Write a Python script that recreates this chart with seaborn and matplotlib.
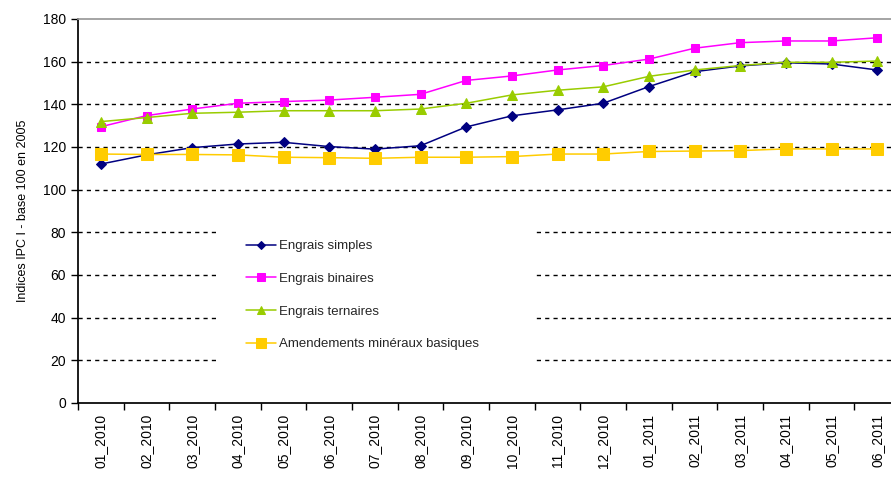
import seaborn as sns
import matplotlib.pyplot as plt
import matplotlib.patches as mpatches
import pandas as pd

# data
months = ['01_2010', '02_2010', '03_2010', '04_2010', '05_2010', '06_2010',
          '07_2010', '08_2010', '09_2010', '10_2010', '11_2010', '12_2010',
          '01_2011', '02_2011', '03_2011', '04_2011', '05_2011', '06_2011']
simples = [112.0, 116.3, 119.7, 121.4, 122.2, 120.2, 119.0, 120.6, 129.4,
           134.6, 137.4, 140.5, 148.3, 155.3, 158.0, 159.5, 158.9, 156.1]
binaires = [129.5, 134.7, 137.8, 140.5, 141.3, 142.0, 143.3, 144.7, 151.2,
            153.3, 156.1, 158.2, 161.2, 166.3, 168.9, 169.7, 169.7, 171.2]
ternaires = [131.9, 133.8, 135.8, 136.3, 137.0, 137.0, 137.0, 137.8, 140.5,
             144.4, 146.6, 148.2, 153.1, 156.1, 158.2, 159.7, 159.7, 160.3]
amendements = [116.7, 116.5, 116.5, 116.3, 115.2, 115.0, 114.7, 115.2, 115.2,
               115.5, 116.7, 116.7, 117.9, 118.1, 118.3, 119.1, 119.1, 119.1]

series = [
    ('Engrais simples', simples, '#000080', 'D', 5),
    ('Engrais binaires', binaires, '#FF00FF', 's', 6),
    ('Engrais ternaires', ternaires, '#99CC00', '^', 7),
    ('Amendements minéraux basiques', amendements, '#FFCC00', 's', 8.5),
]

sns.set_theme(style='white')
plt.rcParams['font.family'] = ['Liberation Sans', 'DejaVu Sans']

fig = plt.figure(figsize=(8.91, 4.82), dpi=100)
ax = fig.add_axes([78 / 891, 79 / 482, 822 / 891, 384 / 482])

x = list(range(len(months)))
for name, vals, color, marker, ms in series:
    df = pd.DataFrame({'x': x, 'y': vals})
    sns.lineplot(data=df, x='x', y='y', ax=ax, color=color, marker=marker,
                 markersize=ms, markeredgecolor=color, linewidth=1.1,
                 label=name, zorder=3)

ax.set_xlim(-0.5, len(months) - 0.5)
ax.set_ylim(0, 180)
ax.set_yticks(range(0, 181, 20))
ax.set_xticks(x)
ax.set_xticklabels(months, rotation=90, fontsize=10)
ax.set_xticks([i - 0.5 for i in range(len(months) + 1)], minor=True)
ax.tick_params(axis='x', which='major', length=0, pad=8)
ax.tick_params(axis='x', which='minor', length=5, width=1, color='black', direction='out', bottom=True)
ax.tick_params(axis='y', length=5, width=1, color='black', direction='out', left=True, labelsize=10)
for t in ax.get_yticklabels() + ax.get_xticklabels():
    t.set_color('black')

ax.set_xlabel('')
ax.set_ylabel('Indices IPC I - base 100 en 2005', fontsize=9, color='black', labelpad=10)

# dashed grid lines
for yv in range(20, 180, 20):
    ax.axhline(yv, color='black', linestyle=(0, (3, 3)), linewidth=1, zorder=0.5)

ax.spines['left'].set_color('black')
ax.spines['bottom'].set_color('black')
ax.spines['top'].set_color('#999999')
ax.spines['right'].set_visible(False)

# white area behind the legend
ax.add_patch(mpatches.Rectangle((0.173, 0.073), 0.38, 0.41, transform=ax.transAxes,
                                facecolor='white', edgecolor='none', zorder=1))

leg = ax.legend(loc='upper left', bbox_to_anchor=(0.19, 0.455), frameon=False,
                fontsize=9.5, labelspacing=1.55, handlelength=2.3, handletextpad=0.2,
                markerscale=0.9)

fig.savefig('out.png', dpi=100)
